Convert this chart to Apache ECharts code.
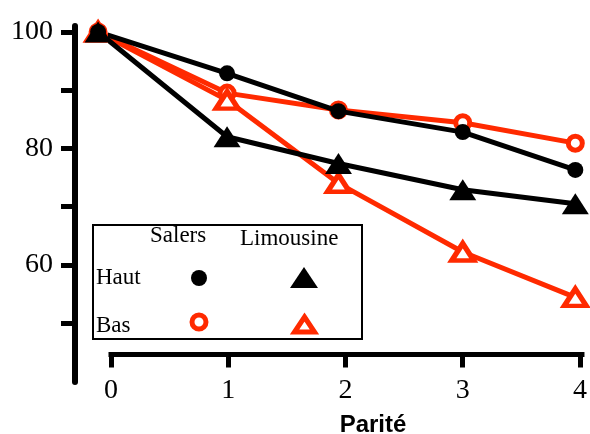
<!DOCTYPE html>
<html>
<head>
<meta charset="utf-8">
<script src="https://cdn.jsdelivr.net/npm/echarts@6/dist/echarts.min.js"></script>
<style>
  html, body { margin: 0; padding: 0; background: #fff; }
  #chart { width: 590px; height: 434px; }
</style>
</head>
<body>
<div id="chart"></div>
<script>
// parité positions as drawn (points sit slightly off the ticks)
const parite = [-0.11, 0.99, 1.94, 3.0, 3.96];
const xTicks = [0, 1, 2, 3, 4];
const yTicks = [50, 60, 70, 80, 90, 100];
const yLabels = [60, 80, 100];

const salersHaut = [100, 92.9, 86.4, 82.8, 76.3];
const limousineHaut = [100, 82.0, 77.4, 72.9, 70.5];
const salersBas = [100, 89.5, 86.6, 84.4, 80.9];
const limousineBas = [100, 88.3, 74.0, 62.2, 54.4];

const RED = '#ff2a00';
const SERIF = '"Liberation Serif", "DejaVu Serif", serif';

// vertical scale: 100 sits at y=32, 5.82 px per unit
const pxUnit = 5.82, y100 = 32, plotTop = 26;
const yMax = 100 + (y100 - plotTop) / pxUnit;
const minAt = (py) => 100 - (py - y100) / pxUnit;

const pairs = (vals) => vals.map((v, i) => [parite[i], v]);

const chart = echarts.init(document.getElementById('chart'));

function series(name, data, color, symbol, size, filled, z) {
  return {
    name: name,
    type: 'line',
    xAxisIndex: 1,
    yAxisIndex: 1,
    data: pairs(data),
    clip: false,
    symbol: symbol,
    symbolSize: size,
    z: z,
    lineStyle: { color: color, width: 5 },
    itemStyle: filled
      ? { color: color }
      : { color: '#fff', borderColor: color, borderWidth: 5 },
    emphasis: { disabled: true },
    animation: false
  };
}

const option = {
  animation: false,
  grid: [
    { left: 75, right: 0, top: plotTop, height: 382 - plotTop },
    { left: 111, right: 0, top: plotTop, height: 354.5 - plotTop }
  ],
  xAxis: [
    { gridIndex: 0, type: 'value', show: false, min: 0, max: 4 },
    {
      gridIndex: 1, type: 'value', min: 0, max: (590 - 111) / 119.25, interval: 1,
      splitLine: { show: false },
      axisLine: { lineStyle: { color: '#000', width: 5, cap: 'square' } },
      axisTick: { length: 13, lineStyle: { color: '#000', width: 5 }, customValues: xTicks },
      axisLabel: {
        customValues: xTicks, margin: 22, color: '#000',
        fontFamily: SERIF, fontSize: 28
      }
    }
  ],
  yAxis: [
    {
      gridIndex: 0, type: 'value', min: minAt(382), max: yMax,
      splitLine: { show: false },
      axisLine: { lineStyle: { color: '#000', width: 6 } },
      axisTick: { length: 14, lineStyle: { color: '#000', width: 5 }, customValues: yTicks },
      axisLabel: {
        customValues: yLabels, margin: 22, color: '#000',
        fontFamily: SERIF, fontSize: 28
      }
    },
    { gridIndex: 1, type: 'value', show: false, min: minAt(354.5), max: yMax }
  ],
  series: [
    series('Bas Salers', salersBas, RED, 'circle', 14, false, 2),
    series('Bas Limousine', limousineBas, RED, 'triangle', [22, 17], false, 2),
    series('Haut Salers', salersHaut, '#000', 'circle', 16, true, 3),
    series('Haut Limousine', limousineHaut, '#000', 'triangle', [27, 21], true, 3)
  ],
  graphic: [
    { type: 'rect', shape: { x: 93, y: 225, width: 269, height: 114 },
      style: { fill: '#fff', stroke: '#000', lineWidth: 2 }, z: 10 },
    { type: 'text', x: 150, y: 236, z: 11,
      style: { text: 'Salers', font: '23px ' + SERIF, fill: '#000', verticalAlign: 'middle' } },
    { type: 'text', x: 240, y: 239, z: 11,
      style: { text: 'Limousine', font: '23px ' + SERIF, fill: '#000', verticalAlign: 'middle' } },
    { type: 'text', x: 96, y: 278, z: 11,
      style: { text: 'Haut', font: '23px ' + SERIF, fill: '#000', verticalAlign: 'middle' } },
    { type: 'text', x: 96, y: 326, z: 11,
      style: { text: 'Bas', font: '23px ' + SERIF, fill: '#000', verticalAlign: 'middle' } },
    { type: 'circle', shape: { cx: 199, cy: 278, r: 8 }, style: { fill: '#000' }, z: 11 },
    { type: 'polygon', shape: { points: [[304, 267], [318, 288], [290, 288]] },
      style: { fill: '#000' }, z: 11 },
    { type: 'circle', shape: { cx: 199, cy: 322, r: 7 },
      style: { fill: '#fff', stroke: RED, lineWidth: 5 }, z: 11 },
    { type: 'polygon', shape: { points: [[304.5, 317], [314.5, 332], [294.5, 332]] },
      style: { fill: '#fff', stroke: RED, lineWidth: 5 }, z: 11 },
    { type: 'text', x: 373, y: 425, z: 11,
      style: { text: 'Parité', font: 'bold 24px "Liberation Sans", Arial, sans-serif',
        fill: '#000', align: 'center', verticalAlign: 'middle' } }
  ]
};

chart.setOption(option);
</script>
</body>
</html>
